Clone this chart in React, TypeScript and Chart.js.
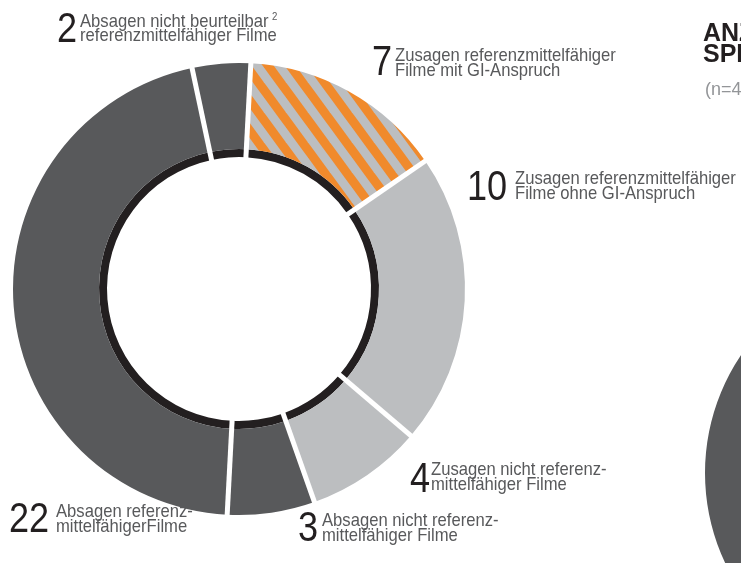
import React, { useEffect, useRef } from "react";
import { Chart, registerables } from "chart.js";
Chart.register(...registerables);

// ---- data ----
const categories = [
  "Zusagen referenzmittelfähiger Filme mit GI-Anspruch",
  "Zusagen referenzmittelfähiger Filme ohne GI-Anspruch",
  "Zusagen nicht referenzmittelfähiger Filme",
  "Absagen nicht referenzmittelfähiger Filme",
  "Absagen referenzmittelfähiger Filme",
  "Absagen nicht beurteilbar referenzmittelfähiger Filme",
];
const values = [7, 10, 4, 3, 22, 2];
const labelLines = [
  ["Zusagen referenzmittelfähiger", "Filme mit GI-Anspruch"],
  ["Zusagen referenzmittelfähiger", "Filme ohne GI-Anspruch"],
  ["Zusagen nicht referenz-", "mittelfähiger Filme"],
  ["Absagen nicht referenz-", "mittelfähiger Filme"],
  ["Absagen referenz-", "mittelfähigerFilme"],
  ["Absagen nicht beurteilbar", "referenzmittelfähiger Filme"],
];
const footnotes = ["", "", "", "", "", "2"];
const titleLines = ["ANZAHL DER", "SPIELFILME"];
const subtitle = "(n=48)";
const otherChartValues = [1];

// ---- styles ----
const DARK = "#58595b";
const LIGHT = "#bcbec0";
const ORANGE = "#f08a2c";
const BLACK = "#231f20";
const sliceColors = ["stripes", LIGHT, LIGHT, DARK, DARK, DARK];

// label layout: [numberX, numberBaseline, textX, firstTextBaseline]
const labelLayout = [
  [372, 75, 395, 61.5],
  [467, 200, 515, 184.5],
  [410, 492, 431, 475.5],
  [298, 541, 322, 526.5],
  [9, 532, 56, 517.5],
  [57, 42, 80, 27],
];

const NUM_F = 43;
const NUM_SX = 0.84;
const TXT_F = 19;
const SX = 0.875;
const LINE_GAP = 14.5;

export default function App() {
  const ref = useRef<HTMLCanvasElement>(null);
  const ref2 = useRef<HTMLCanvasElement>(null);

  useEffect(() => {
    const canvas = ref.current!;
    const ctx = canvas.getContext("2d")!;
    const tw = 22, th = 30;
    const tile = document.createElement("canvas");
    tile.width = tw;
    tile.height = th;
    const t = tile.getContext("2d")!;
    t.fillStyle = LIGHT;
    t.fillRect(0, 0, tw, th);
    t.strokeStyle = ORANGE;
    t.lineWidth = 9;
    const a = Math.atan2(th, tw);
    for (let k = -3; k <= 3; k++) {
      t.beginPath();
      t.moveTo(k * tw - 100 * Math.cos(a), -100 * Math.sin(a));
      t.lineTo(k * tw + 100 * Math.cos(a), 100 * Math.sin(a));
      t.stroke();
    }
    const pattern = ctx.createPattern(tile, "repeat")!;
    const bg = sliceColors.map((c) => (c === "stripes" ? pattern : c));

    const gapPlugin = {
      id: "gaps",
      afterDatasetsDraw(chart: any) {
        const outer = chart.getDatasetMeta(0);
        const inner = chart.getDatasetMeta(1);
        const rIn = inner.data[0].innerRadius - 2;
        const c = chart.ctx;
        c.save();
        c.strokeStyle = "#ffffff";
        c.lineWidth = 5;
        outer.data.forEach((arc: any) => {
          const ang = arc.startAngle;
          const rOut = arc.outerRadius + 3;
          c.beginPath();
          c.moveTo(arc.x + Math.cos(ang) * rIn, arc.y + Math.sin(ang) * rIn);
          c.lineTo(arc.x + Math.cos(ang) * rOut, arc.y + Math.sin(ang) * rOut);
          c.stroke();
        });
        c.restore();
      },
    };

    const chart = new Chart(canvas, {
      type: "doughnut",
      data: {
        labels: categories,
        datasets: [
          { data: values, backgroundColor: bg as any, borderWidth: 0, weight: 86 } as any,
          { data: values, backgroundColor: BLACK, borderWidth: 0, weight: 8 } as any,
        ],
      },
      options: {
        responsive: false,
        animation: false,
        rotation: 3,
        radius: 226,
        cutout: "58.4%",
        layout: { padding: { top: 15, right: 263, left: 0, bottom: 0 } },
        plugins: { legend: { display: false }, tooltip: { enabled: false } },
        events: [],
      } as any,
      plugins: [gapPlugin],
    });

    const chart2 = new Chart(ref2.current!, {
      type: "pie",
      data: {
        labels: ["other"],
        datasets: [{ data: otherChartValues, backgroundColor: DARK, borderWidth: 0 } as any],
      },
      options: {
        responsive: false,
        animation: false,
        plugins: { legend: { display: false }, tooltip: { enabled: false } },
        events: [],
      } as any,
    });

    return () => {
      chart.destroy();
      chart2.destroy();
    };
  }, []);

  const numOff = 0.8465 * NUM_F;
  const txtOff = 0.8465 * TXT_F;

  return (
    <div
      style={{
        position: "fixed",
        left: 0,
        top: 0,
        width: 741,
        height: 563,
        overflow: "hidden",
        background: "#fff",
        fontFamily: "'Liberation Sans', Arial, sans-serif",
      }}
    >
      <canvas ref={ref} width={741} height={563} style={{ position: "absolute", left: 0, top: 0 }} />
      <canvas ref={ref2} width={422} height={422} style={{ position: "absolute", left: 705, top: 262 }} />
      {values.map((v, i) => {
        const [nx, nb, tx, tb] = labelLayout[i];
        return (
          <React.Fragment key={i}>
            <div
              style={{
                position: "absolute",
                left: nx,
                top: nb - numOff,
                fontSize: NUM_F,
                lineHeight: `${NUM_F}px`,
                color: BLACK,
                whiteSpace: "nowrap",
                transform: `scaleX(${NUM_SX})`,
                transformOrigin: "0 0",
              }}
            >
              {v}
            </div>
            {labelLines[i].map((line, j) => (
              <div
                key={j}
                style={{
                  position: "absolute",
                  left: tx,
                  top: tb + j * LINE_GAP - txtOff,
                  fontSize: TXT_F,
                  lineHeight: `${TXT_F}px`,
                  color: DARK,
                  whiteSpace: "nowrap",
                  transform: `scaleX(${SX})`,
                  transformOrigin: "0 0",
                }}
              >
                {line}
                {j === 0 && footnotes[i] ? (
                  <span style={{ fontSize: 11, position: "relative", top: -7, marginLeft: 4 }}>{footnotes[i]}</span>
                ) : null}
              </div>
            ))}
          </React.Fragment>
        );
      })}
      {titleLines.map((line, j) => (
        <div
          key={j}
          style={{
            position: "absolute",
            left: 703,
            top: 41 + j * 21 - 0.8465 * 25,
            fontSize: 25,
            lineHeight: "25px",
            fontWeight: "bold",
            color: BLACK,
            whiteSpace: "nowrap",
          }}
        >
          {line}
        </div>
      ))}
      <div
        style={{
          position: "absolute",
          left: 705,
          top: 95 - 0.8465 * 18,
          fontSize: 18,
          lineHeight: "18px",
          color: "#939598",
          whiteSpace: "nowrap",
        }}
      >
        {subtitle}
      </div>
    </div>
  );
}
